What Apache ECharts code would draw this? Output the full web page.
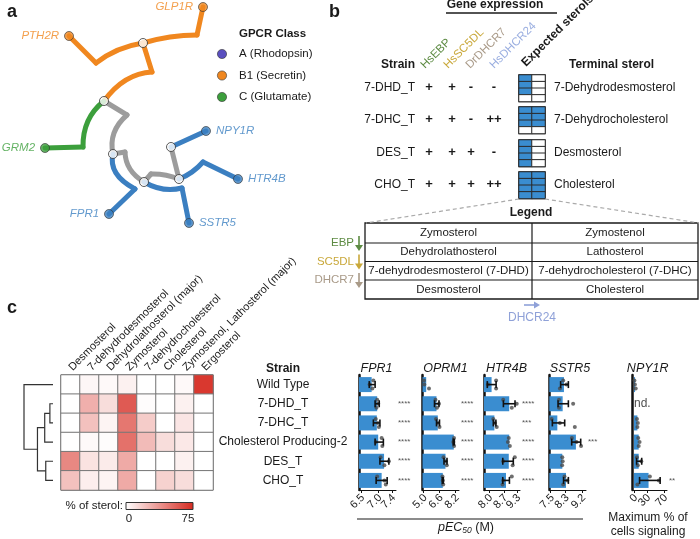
<!DOCTYPE html>
<html><head><meta charset="utf-8">
<script src="https://cdn.jsdelivr.net/npm/echarts@6/dist/echarts.min.js"></script>
<style>html,body{margin:0;padding:0;background:#fff}#c{width:700px;height:539px}</style>
</head><body><div id="c"></div>
<script>
const FONT = '"Liberation Sans", Arial, Helvetica, sans-serif';

// ---------------- Panel a : GPCR tree ----------------
const gpcrClasses = ['A (Rhodopsin)', 'B1 (Secretin)', 'C (Glutamate)'];
const treeSegments = [
  {cls: 'grey', pts: [[104,101],[127,115]]},
  {cls: 'grey', pts: [[127,115],[114,133],[113,154]]},
  {cls: 'grey', pts: [[113,154],[125,152]]},
  {cls: 'grey', pts: [[125,152],[130,169],[144,182]]},
  {cls: 'grey', pts: [[144,182],[151,174]]},
  {cls: 'grey', pts: [[151,174],[165,175],[179,179]]},
  {cls: 'grey', pts: [[179,179],[171,147]]},
  {cls: 'B1', pts: [[143,43],[170,37],[197,35]]},
  {cls: 'B1', pts: [[197,35],[203,7]]},
  {cls: 'B1', pts: [[143,43],[118,50],[96,63]]},
  {cls: 'B1', pts: [[96,63],[69,36]]},
  {cls: 'B1', pts: [[143,43],[152,72]]},
  {cls: 'B1', pts: [[152,72],[126,80],[104,101]]},
  {cls: 'C', pts: [[104,101],[88,121],[83,147]]},
  {cls: 'C', pts: [[83,147],[45,148]]},
  {cls: 'A', pts: [[113,154],[116,173],[135,189]]},
  {cls: 'A', pts: [[135,189],[109,214]]},
  {cls: 'A', pts: [[144,182],[163,189],[182,188]]},
  {cls: 'A', pts: [[182,188],[189,223]]},
  {cls: 'A', pts: [[171,147],[206,131]]},
  {cls: 'A', pts: [[179,179],[192,172],[203,162]]},
  {cls: 'A', pts: [[203,162],[238,179]]}
];
const treeInternalNodes = [[143,43],[104,101],[113,154],[144,182],[179,179],[171,147]];
const treeLeafNames = ['GLP1R','PTH2R','GRM2','NPY1R','HTR4B','FPR1','SSTR5'];
const treeLeafClass = ['B1','B1','C','A','A','A','A'];
const treeLeafPos = [[203,7],[69,36],[45,148],[206,131],[238,179],[109,214],[189,223]];
const treeLeafSide = ['left','left','left','right','right','left','right'];

// ---------------- Panel b ----------------
const bStrains = ['7-DHD_T','7-DHC_T','DES_T','CHO_T'];
const bGenes = ['HsEBP','HsSC5DL','DrDHCR7','HsDHCR24'];
const bExpr = [['+','+','-','-'],['+','+','-','++'],['+','+','+','-'],['+','+','+','++']];
const bTerminal = ['7-Dehydrodesmosterol','7-Dehydrocholesterol','Desmosterol','Cholesterol'];
const bExpected = [
  [[1,0],[1,0],[1,0],[0,0]],
  [[1,1],[1,1],[1,1],[0,0]],
  [[1,0],[1,0],[1,0],[1,0]],
  [[1,1],[1,1],[1,1],[1,1]]
];
const legendLeft = ['Zymosterol','Dehydrolathosterol','7-dehydrodesmosterol (7-DHD)','Desmosterol'];
const legendRight = ['Zymostenol','Lathosterol','7-dehydrocholesterol (7-DHC)','Cholesterol'];
const legendEnzymes = ['EBP','SC5DL','DHCR7'];

// ---------------- Panel c ----------------
const strains = ['Wild Type','7-DHD_T','7-DHC_T','Cholesterol Producing-2','DES_T','CHO_T'];
const sterols = ['Desmosterol','7-dehydrodesmosterol','Dehydrolathosterol (major)','Zymosterol','7-dehydrocholesterol','Cholesterol','Zymostenol, Lathosterol (major)','Ergosterol'];
const sterolPct = [
  [0, 3, 2, 5, 0, 0, 2, 70],
  [0, 28, 12, 58, 1, 0, 5, 0],
  [0, 22, 4, 48, 18, 0, 9, 0],
  [0, 2, 1, 50, 24, 12, 8, 0],
  [42, 10, 7, 30, 0, 0, 5, 0],
  [22, 6, 4, 30, 0, 16, 12, 0]
];
const dendroMerges = [[1,2,3],[6,3,8],[4,5,7],[7,8,15],[0,9,28]];

const receptors = ['FPR1','OPRM1','HTR4B','SSTR5','NPY1R'];
const fpr1Mean = [6.81, 6.97, 6.96, 7.00, 7.17, 7.10];
const fpr1Err = [[6.74,6.91],[6.91,7.03],[6.86,7.05],[6.91,7.15],[7.05,7.31],[6.94,7.26]];
const fpr1Pts = [[6.86,6.75,6.83],[6.97,7.00,6.95],[6.93,6.99,7.02],[7.10,6.93,7.12],[7.07,7.31,7.18],[6.97,7.18,7.22]];
const fpr1Stars = ['','****','****','****','****','****'];
const oprm1Mean = [5.27, 6.30, 6.43, 8.03, 7.20, 6.93];
const oprm1Err = [null,[6.10,6.55],[6.30,6.60],[7.97,8.08],[7.05,7.35],[6.88,6.98]];
const oprm1Pts = [[5.05,5.08,5.55],[6.20,6.55,6.35],[6.25,6.45,6.60],[8.05,7.98,8.06],[7.00,7.25,7.33],[6.90,6.93,6.97]];
const oprm1Stars = ['','****','****','****','****','****'];
const htr4bMean = [8.12, 8.94, 8.25, 8.94, 8.92, 8.79];
const htr4bErr = [[7.92,8.33],[8.67,9.21],[8.20,8.32],null,[8.64,9.13],[8.64,8.95]];
const htr4bPts = [[8.33,7.95,8.33],[8.66,9.29,9.06],[8.20,8.28,8.36],[8.92,8.88,8.97],[9.20,8.66,9.10],[9.06,8.66,8.63]];
const htr4bStars = ['','****','***','****','****','****'];
const sstr5Mean = [8.22, 8.15, 7.86, 8.87, 8.13, 8.33];
const sstr5Err = [[8.04,8.46],[7.90,8.46],[7.59,8.26],[8.64,9.13],null,[8.20,8.46]];
const sstr5Pts = [[8.18,8.36,8.00],[7.95,8.72,7.95],[7.55,8.00,8.81],[8.65,8.90,9.15],[8.13,8.15,8.12],[8.25,8.40,8.18]];
const sstr5Stars = ['','','','***','',''];
const npy1rMean = [2.5, null, 8, 11, 11, 34];
const npy1rErr = [null,null,null,null,[6,18],[13,61]];
const npy1rPts = [[1,2,4],[],[7,9,8],[10,13,11],[7,17,9],[37,58,8]];
const npy1rStars = ['','','','','','**'];
const barTicks = [[6.5,7.0,7.4],[5.0,6.6,8.2],[8.0,8.7,9.3],[7.5,8.3,9.2],[0,30,70]];
const barTickLabels = [['6.5','7.0','7.4'],['5.0','6.6','8.2'],['8.0','8.7','9.3'],['7.5','8.3','9.2'],['0','30','70']];

// ---------------- build ----------------
const COL = {A:'#3b7fc1', B1:'#f0871f', C:'#3c9f3c', grey:'#9c9c9c'};
const LEGCOL = {A:'#5a4fbf', B1:'#f0871f', C:'#3c9f3c'};
const BLUE = '#3a8dd0';
const grids = [], xAxes = [], yAxes = [], series = [], graphics = [];

function txt(x, y, text, o) {
  o = o || {};
  const size = o.size || 12;
  const font = (o.italic ? 'italic ' : '') + (o.bold ? 'bold ' : '') + size + 'px ' + FONT;
  graphics.push({type:'text', x:x, y:y, rotation:o.rot || 0, silent:true, z:50,
    style:{text:text, font:font, fill:o.color || '#1a1a1a', align:o.align || 'left', textAlign:o.align || 'left',
      verticalAlign:o.va || 'middle', textVerticalAlign:o.va || 'middle', rich:o.rich}});
}
function line(x1,y1,x2,y2,o){
  o = o || {};
  graphics.push({type:'line', silent:true, z:40, shape:{x1,y1,x2,y2}, style:{stroke:o.color||'#1a1a1a', lineWidth:o.w||1, lineDash:o.dash||null}});
}

// Panel a
grids.push({left:0, top:0, width:340, height:260});
xAxes.push({gridIndex:0, type:'value', min:0, max:340, show:false});
yAxes.push({gridIndex:0, type:'value', min:0, max:260, inverse:true, show:false});
series.push({type:'custom', xAxisIndex:0, yAxisIndex:0, silent:true, z:2,
  data: treeSegments.map((s,i)=>[i,0]),
  renderItem: function(params, api){
    const s = treeSegments[params.dataIndex];
    const p = s.pts.map(q=>api.coord(q));
    const style = {stroke: COL[s.cls], lineWidth:5, fill:null, lineCap:'round'};
    if (p.length === 2) return {type:'line', shape:{x1:p[0][0],y1:p[0][1],x2:p[1][0],y2:p[1][1]}, style:style, z2: s.cls==='grey'?1:2};
    const cp = [2*p[1][0]-(p[0][0]+p[2][0])/2, 2*p[1][1]-(p[0][1]+p[2][1])/2];
    return {type:'bezierCurve', shape:{x1:p[0][0],y1:p[0][1],x2:p[2][0],y2:p[2][1],cpx1:cp[0],cpy1:cp[1]}, style:style, z2: s.cls==='grey'?1:2};
  }});
series.push({type:'scatter', xAxisIndex:0, yAxisIndex:0, silent:true, z:5, symbolSize:9,
  itemStyle:{color:'#fff', borderColor:'#333', borderWidth:1},
  data: treeInternalNodes});
series.push({type:'scatter', xAxisIndex:0, yAxisIndex:0, silent:true, z:5, symbolSize:9,
  itemStyle:{borderColor:'#333', borderWidth:0.8},
  data: treeLeafPos.map((p,i)=>({value:p, itemStyle:{color:COL[treeLeafClass[i]]},
    label:{show:true, position:treeLeafSide[i], distance:5, color:COL[treeLeafClass[i]], formatter:treeLeafNames[i],
      fontStyle:'italic', fontSize:11.5, fontFamily:FONT}}))});
txt(7, 12, 'a', {bold:true, size:18});
txt(239, 34, 'GPCR Class', {bold:true, size:11.5});
['A','B1','C'].forEach((k,i)=>{
  graphics.push({type:'circle', silent:true, shape:{cx:222, cy:54+i*21.5, r:4.6}, style:{fill:LEGCOL[k], stroke:'#333', lineWidth:0.6}});
  txt(239, 54+i*21.5, gpcrClasses[i], {size:11.5});
});

// Panel b
txt(329, 12, 'b', {bold:true, size:18});
txt(495, 5, 'Gene expression', {bold:true, size:12, align:'center'});
line(446, 13, 557, 13, {w:1.3});
const geneCol = ['#5d8b43','#c9a83a','#a99a88','#9aaee0'];
const geneX = [427, 450, 472, 496];
bGenes.forEach((g,i)=>txt(geneX[i], 71, g, {size:11.5, color:geneCol[i], rot:Math.PI/4, va:'bottom'}));
txt(528, 69, 'Expected sterols', {bold:true, size:12, rot:Math.PI/4, va:'bottom'});
txt(415, 65, 'Strain', {bold:true, size:12, align:'right'});
txt(569, 65, 'Terminal sterol', {bold:true, size:12});
const bRowY = [88, 120, 153, 185];
const exprX = [429, 452, 471, 494];
bStrains.forEach((s,r)=>{
  txt(415, bRowY[r], s, {size:12, align:'right'});
  bExpr[r].forEach((e,c)=>txt(exprX[c], bRowY[r]-1, e, {size:13, bold:true, align:'center'}));
  txt(554, bRowY[r], bTerminal[r], {size:12});
});
const bVisualSeries = [];
bStrains.forEach((s,k)=>{
  const gi = grids.push({left:519, top:bRowY[k]-13, width:26, height:26.5, show:true, borderColor:'#2a2a2a', borderWidth:1.5})-1;
  const xi = xAxes.push({gridIndex:gi, type:'category', data:['L','R'], show:false})-1;
  const yi = yAxes.push({gridIndex:gi, type:'category', data:[0,1,2,3], inverse:true, show:false})-1;
  const data = [];
  bExpected[k].forEach((row,r)=>row.forEach((v,c)=>data.push([c,r,v])));
  bVisualSeries.push(series.push({type:'heatmap', xAxisIndex:xi, yAxisIndex:yi, silent:true, data:data,
    itemStyle:{borderColor:'#2a2a2a', borderWidth:1}})-1);
});
line(519, 199, 366, 223, {color:'#aaaaaa', w:1.2, dash:[4,3]});
line(545, 199, 699, 223, {color:'#aaaaaa', w:1.2, dash:[4,3]});
txt(531, 213, 'Legend', {bold:true, size:12, align:'center'});
graphics.push({type:'rect', silent:true, shape:{x:365, y:223, width:333, height:76}, style:{fill:'none', stroke:'#1a1a1a', lineWidth:1.3}});
[243, 261.5, 280].forEach(y=>line(365, y, 698, y, {w:1.2}));
line(532, 223, 532, 299, {w:1.2});
const tRowY = [233, 252, 271, 289.5];
legendLeft.forEach((t,i)=>txt(448.5, tRowY[i], t, {size:11.5, align:'center'}));
legendRight.forEach((t,i)=>txt(615, tRowY[i], t, {size:11.5, align:'center'}));
const enzCol = ['#5d8b43','#c9a83a','#a99a88'];
[243, 261.5, 280].forEach((y,i)=>{
  txt(354, y, legendEnzymes[i], {size:11.5, align:'right', color:enzCol[i]});
  line(359, y-7, 359, y+5, {color:enzCol[i], w:1.6});
  graphics.push({type:'polygon', silent:true, shape:{points:[[355,y+2],[363,y+2],[359,y+8]]}, style:{fill:enzCol[i]}});
});
line(524, 305, 535, 305, {color:'#8fa1d8', w:1.6});
graphics.push({type:'polygon', silent:true, shape:{points:[[534,301.5],[534,308.5],[540,305]]}, style:{fill:'#8fa1d8'}});
txt(532, 318, 'DHCR24', {size:12, align:'center', color:'#8fa1d8'});

// Panel c heatmap
txt(7, 308, 'c', {bold:true, size:18});
const hg = grids.push({left:61, top:375, width:152, height:115, show:true, borderColor:'#555', borderWidth:1})-1;
const hx = xAxes.push({gridIndex:hg, type:'category', data:sterols, position:'top',
  axisLine:{show:false}, axisTick:{show:false},
  axisLabel:{rotate:-45, align:'left', verticalAlign:'middle', interval:0, margin:6, fontSize:11, color:'#1a1a1a', fontFamily:FONT}})-1;
const hy = yAxes.push({gridIndex:hg, type:'category', data:strains, inverse:true, show:false})-1;
const hdata = [];
sterolPct.forEach((row,r)=>row.forEach((v,c)=>hdata.push([c,r,v])));
const heatSeries = series.push({type:'heatmap', xAxisIndex:hx, yAxisIndex:hy, silent:true, data:hdata,
  itemStyle:{borderColor:'#777', borderWidth:1}})-1;
txt(123, 506, '% of sterol:', {size:11.5, align:'right'});
graphics.push({type:'rect', silent:true, shape:{x:126, y:502.5, width:67, height:7},
  style:{stroke:'#333', lineWidth:1, fill:{type:'linear', x:0, y:0, x2:1, y2:0, colorStops:[{offset:0,color:'#ffffff'},{offset:1,color:'#d62a20'}]}}});
txt(129, 519, '0', {size:11.5, align:'center'});
txt(188, 519, '75', {size:11.5, align:'center'});

// dendrogram
const dg = grids.push({left:24, top:375, width:29, height:115})-1;
const dx = xAxes.push({gridIndex:dg, type:'value', min:0, max:28, inverse:true, show:false})-1;
const dy = yAxes.push({gridIndex:dg, type:'value', min:0, max:6, inverse:true, show:false})-1;
const dnodes = strains.map((s,i)=>({h:0, y:i+0.5}));
dendroMerges.forEach(m=>dnodes.push({a:m[0], b:m[1], h:m[2], y:(dnodes[m[0]].y+dnodes[m[1]].y)/2}));
series.push({type:'custom', xAxisIndex:dx, yAxisIndex:dy, silent:true,
  data: dendroMerges.map((m,i)=>[m[2], i]),
  renderItem: function(params, api){
    const n = dnodes[strains.length + params.dataIndex];
    const A = dnodes[n.a], B = dnodes[n.b];
    const pts = [[A.h,A.y],[n.h,A.y],[n.h,B.y],[B.h,B.y]].map(q=>api.coord(q));
    return {type:'polyline', shape:{points:pts}, style:{stroke:'#333', lineWidth:1.2, fill:null}};
  }});

// Bar panels
const barMean = [fpr1Mean, oprm1Mean, htr4bMean, sstr5Mean, npy1rMean];
const barErr = [fpr1Err, oprm1Err, htr4bErr, sstr5Err, npy1rErr];
const barPts = [fpr1Pts, oprm1Pts, htr4bPts, sstr5Pts, npy1rPts];
const barStars = [fpr1Stars, oprm1Stars, htr4bStars, sstr5Stars, npy1rStars];
const barLayout = [
  {left:359, width:37, min:6.442, max:7.517, title:376.5},
  {left:422.5, width:36.5, min:4.9, max:8.55, title:445.5},
  {left:484, width:36, min:7.767, max:9.442, title:506.5},
  {left:549.3, width:36.7, min:7.424, max:9.418, title:570},
  {left:632.7, width:34.3, min:-3, max:77, title:647.7}
];
const jitter = [-4, 0, 4];
txt(283, 369, 'Strain', {bold:true, size:12, align:'center'});
receptors.forEach((name,k)=>{
  const L = barLayout[k];
  const gi = grids.push({left:L.left, top:375, width:L.width, height:115})-1;
  const ticks = barTicks[k], labs = barTickLabels[k];
  const xi = xAxes.push({gridIndex:gi, type:'value', min:L.min, max:L.max,
    axisLine:{show:true, onZero:false, lineStyle:{color:'#111', width:1}},
    axisTick:{show:true, length:3, customValues:ticks, lineStyle:{color:'#111'}},
    axisLabel:{show:false},
    splitLine:{show:false}})-1;
  const yi = yAxes.push({gridIndex:gi, type:'category', data:strains, inverse:true,
    axisLine:{show:true, onZero:false, lineStyle:{color:'#111', width:2.5}}, axisTick:{show:false},
    axisLabel:{show:k===0, interval:0, margin:76, align:'center', fontSize:12, color:'#1a1a1a', fontFamily:FONT}})-1;
  yAxes.push({gridIndex:gi, type:'category', position:'right', data:barStars[k], inverse:true,
    axisLine:{show:false}, axisTick:{show:false},
    axisLabel:{interval:0, margin:2, fontSize:8, color:'#555', fontFamily:FONT}});
  series.push({type:'bar', xAxisIndex:xi, yAxisIndex:yi, silent:true, barWidth:15, clip:true,
    itemStyle:{color:BLUE}, data:barMean[k]});
  const pdata = [];
  barPts[k].forEach((arr,r)=>arr.forEach((v,i)=>pdata.push({value:[v,r], symbolOffset:[0, jitter[i%3]]})));
  series.push({type:'scatter', xAxisIndex:xi, yAxisIndex:yi, silent:true, symbolSize:4, z:3,
    itemStyle:{color:'#4a4a4a'}, data:pdata});
  const edata = [];
  barErr[k].forEach((e,r)=>{ if (e) edata.push([e[0], e[1], r]); });
  series.push({type:'custom', xAxisIndex:xi, yAxisIndex:yi, silent:true, z:4, encode:{x:[0,1], y:2}, data:edata,
    renderItem: function(params, api){
      const a = api.coord([api.value(0), api.value(2)]);
      const b = api.coord([api.value(1), api.value(2)]);
      const st = {stroke:'#111', lineWidth:1.6};
      return {type:'group', children:[
        {type:'line', shape:{x1:a[0],y1:a[1],x2:b[0],y2:b[1]}, style:st},
        {type:'line', shape:{x1:a[0],y1:a[1]-3.5,x2:a[0],y2:a[1]+3.5}, style:st},
        {type:'line', shape:{x1:b[0],y1:b[1]-3.5,x2:b[0],y2:b[1]+3.5}, style:st}]};
    }});
  // tick labels placed through the x scale
  series.push({type:'custom', xAxisIndex:xi, yAxisIndex:yi, silent:true, clip:false, z:6,
    data: ticks.map((t,i)=>[t, 0, i]), encode:{x:0, y:1},
    renderItem: function(params, api){
      const cs = params.coordSys;
      const p = api.coord([api.value(0), 0]);
      return {type:'text', x:p[0]+2, y:cs.y+cs.height+6, rotation:Math.PI/4,
        style:{text:labs[api.value(2)], font:'11px '+FONT, fill:'#1a1a1a', align:'right', verticalAlign:'middle'}};
    }});
  const nd = [];
  barMean[k].forEach((m,r)=>{ if (m === null) nd.push([Math.max(0, L.min), r]); });
  if (nd.length) series.push({type:'scatter', xAxisIndex:xi, yAxisIndex:yi, silent:true, symbolSize:0, data:nd,
    label:{show:true, position:'right', distance:0, formatter:'nd.', fontSize:12, color:'#1a1a1a', fontFamily:FONT}});
  txt(L.title, 369, name, {italic:true, size:12.5, align:'center'});
});
line(357, 519, 583, 519, {w:1.2});
txt(466, 528, '{i|pEC}{s|50}{n| (M)}', {size:12, align:'center', rich:{
  i:{fontStyle:'italic', fontSize:12.5, fontFamily:FONT, fill:'#1a1a1a'},
  s:{fontStyle:'italic', fontSize:8.5, fontFamily:FONT, verticalAlign:'bottom', padding:[6,0,0,0], fill:'#1a1a1a'},
  n:{fontSize:12.5, fontFamily:FONT, fill:'#1a1a1a'}}});
txt(648, 518, 'Maximum % of', {size:12, align:'center'});
txt(648, 532, 'cells signaling', {size:12, align:'center'});

const chart = echarts.init(document.getElementById('c'), null, {width:700, height:539});
chart.setOption({
  animation:false,
  backgroundColor:'#fff',
  textStyle:{fontFamily:FONT},
  grid:grids, xAxis:xAxes, yAxis:yAxes,
  visualMap:[
    {type:'piecewise', show:false, dimension:2, seriesIndex:bVisualSeries,
      pieces:[{value:0, color:'#ffffff'},{value:1, color:BLUE}]},
    {type:'continuous', show:false, dimension:2, seriesIndex:heatSeries, min:0, max:75,
      inRange:{color:['#ffffff','#d62a20']}}
  ],
  series:series,
  graphic:graphics
});
</script></body></html>
